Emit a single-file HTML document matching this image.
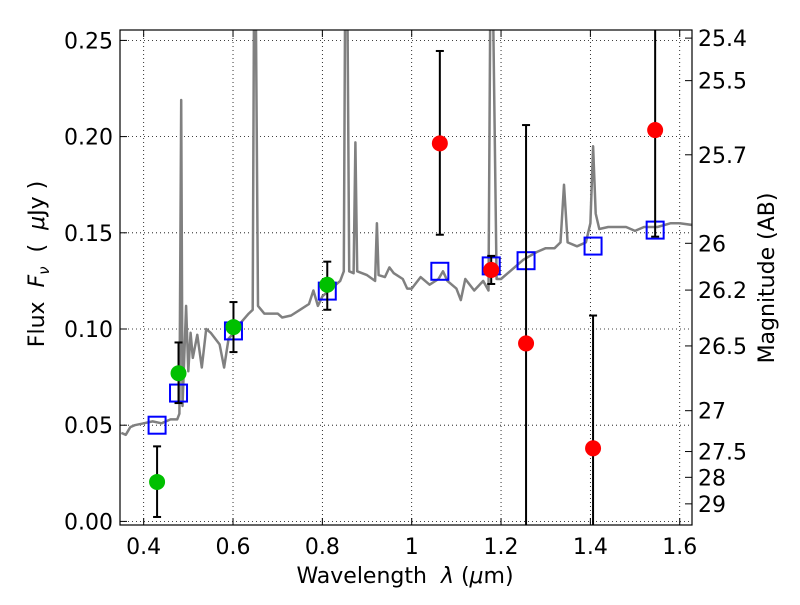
<!DOCTYPE html>
<html><head><meta charset="utf-8"><style>
body{margin:0;background:#fff}
svg text{font-family:"DejaVu Sans","Liberation Sans",sans-serif;fill:#000}
</style></head><body>
<svg id="chart" width="800" height="600" xmlns="http://www.w3.org/2000/svg">
<defs><clipPath id="plotclip"><rect x="120" y="30" width="572" height="495"/></clipPath></defs>
<rect x="0" y="0" width="800" height="600" fill="#fff"/>
<g id="grid"></g>
<g id="spec" clip-path="url(#plotclip)"></g>
<g id="marks" clip-path="url(#plotclip)"></g>
<rect x="120" y="30" width="572" height="495" fill="none" stroke="#000" stroke-width="1.2"/>
<g id="axes"></g>
<text x="405" y="583" font-size="22" text-anchor="middle" xml:space="preserve">Wavelength  <tspan font-style="italic">λ</tspan> (<tspan font-style="italic">μ</tspan>m)</text>
<text transform="translate(44,264) rotate(-90)" font-size="22" text-anchor="middle" xml:space="preserve">Flux  <tspan font-style="italic">F</tspan><tspan font-style="italic" font-size="15" dy="5">ν</tspan><tspan dy="-5">  (  </tspan><tspan font-style="italic">μ</tspan>Jy )</text>
<text transform="translate(774,278) rotate(-90)" font-size="22" text-anchor="middle">Magnitude (AB)</text>
</svg>
<script>
const specLam=[0.35,0.36,0.37,0.38,0.40,0.42,0.44,0.46,0.475,0.48,0.484,0.487,0.49,0.495,0.50,0.505,0.51,0.52,0.53,0.54,0.55,0.57,0.58,0.59,0.61,0.62,0.635,0.644,0.647,0.651,0.656,0.67,0.70,0.71,0.73,0.75,0.77,0.78,0.79,0.80,0.82,0.84,0.848,0.851,0.856,0.86,0.87,0.874,0.878,0.90,0.918,0.922,0.926,0.94,0.95,0.96,0.98,0.99,1.00,1.02,1.04,1.06,1.07,1.08,1.10,1.11,1.12,1.14,1.16,1.172,1.176,1.182,1.19,1.20,1.22,1.25,1.28,1.30,1.32,1.333,1.341,1.349,1.37,1.39,1.40,1.406,1.412,1.42,1.44,1.48,1.50,1.52,1.55,1.58,1.60,1.63];
const specFlux=[0.046,0.045,0.049,0.050,0.051,0.052,0.051,0.053,0.053,0.056,0.219,0.06,0.08,0.112,0.078,0.098,0.085,0.097,0.080,0.100,0.098,0.092,0.080,0.095,0.100,0.104,0.108,0.110,0.27,0.27,0.112,0.108,0.108,0.106,0.107,0.110,0.113,0.120,0.112,0.117,0.121,0.125,0.13,0.27,0.27,0.130,0.129,0.197,0.130,0.128,0.125,0.155,0.128,0.127,0.132,0.129,0.126,0.121,0.121,0.127,0.123,0.126,0.130,0.125,0.121,0.115,0.126,0.120,0.125,0.120,0.27,0.27,0.126,0.126,0.130,0.136,0.140,0.142,0.142,0.145,0.175,0.145,0.143,0.145,0.155,0.195,0.160,0.152,0.153,0.153,0.151,0.153,0.153,0.155,0.155,0.154];
const greenLam=[0.430,0.478,0.601,0.811];
const greenFlux=[0.0205,0.077,0.101,0.123];
const greenLo=[0.0023,0.0615,0.088,0.110];
const greenHi=[0.039,0.093,0.114,0.135];
const redLam=[1.063,1.178,1.256,1.406,1.545];
const redFlux=[0.1965,0.1307,0.0925,0.038,0.2034];
const redLo=[0.149,0.1234,-0.05,-0.05,0.148];
const redHi=[0.2445,0.138,0.206,0.107,0.30];
const boxLam=[0.430,0.478,0.601,0.811,1.063,1.178,1.256,1.406,1.545];
const boxFlux=[0.050,0.0667,0.099,0.1197,0.130,0.1328,0.1355,0.1431,0.1514];
const xTicks=[0.4,0.6,0.8,1.0,1.2,1.4,1.6];
const xTickLabels=["0.4","0.6","0.8","1","1.2","1.4","1.6"];
const yTicks=[0,0.05,0.10,0.15,0.20,0.25];
const yTickLabels=["0.00","0.05","0.10","0.15","0.20","0.25"];
const magTicks=[25.4,25.5,25.7,26,26.2,26.5,27,27.5,28,29];
const magTickLabels=["25.4","25.5","25.7","26","26.2","26.5","27","27.5","28","29"];

const NS="http://www.w3.org/2000/svg";
const X=v=>411.7+(v-1)*446.7;
const Y=v=>521.4-v*1924;
function mk(parent,tag,attrs){const e=document.createElementNS(NS,tag);for(const k in attrs)e.setAttribute(k,attrs[k]);document.getElementById(parent).appendChild(e);return e;}

xTicks.forEach((t,i)=>{
  let g=mk('grid','line',{x1:X(t),x2:X(t),y1:30,y2:525,stroke:'#000','stroke-width':0.8,'stroke-dasharray':'1,3'});
  
  
  let tk=mk('axes','line',{x1:X(t),x2:X(t),y1:525,y2:518,stroke:'#000'});
  
  
  let tk2=mk('axes','line',{x1:X(t),x2:X(t),y1:30,y2:37,stroke:'#000'});
  
  
  let l=mk('axes','text',{x:X(t),y:554,'font-size':22,'text-anchor':'middle'});
  l.textContent=xTickLabels[i];
  
  
});
yTicks.forEach((t,i)=>{
  let g=mk('grid','line',{x1:120,x2:692,y1:Y(t),y2:Y(t),stroke:'#000','stroke-width':0.8,'stroke-dasharray':'1,3'});
  
  
  let tk=mk('axes','line',{x1:120,x2:127,y1:Y(t),y2:Y(t),stroke:'#000'});
  
  
  let l=mk('axes','text',{x:113,y:Y(t)+8,'font-size':22,'text-anchor':'end'});
  l.textContent=yTickLabels[i];
  
  
});
magTicks.forEach((m,i)=>{
  const f=Math.pow(10,(23.9-m)/2.5);
  let tk=mk('axes','line',{x1:685,x2:692,y1:Y(f),y2:Y(f),stroke:'#000'});
  
  
  let l=mk('axes','text',{x:698,y:Y(f)+8,'font-size':22,'text-anchor':'start'});
  l.textContent=magTickLabels[i];
  
  
});
let d=specLam.map((l,i)=>(i?'L':'M')+X(l).toFixed(1)+' '+Y(specFlux[i]).toFixed(1)).join(' ');
let sp=mk('spec','path',{d:d,fill:'none',stroke:'#808080','stroke-width':2.5,'stroke-linejoin':'round'});


function errbar(x,lo,hi,name){
  let e=mk('marks','line',{x1:X(x),x2:X(x),y1:Y(lo),y2:Y(hi),stroke:'#000','stroke-width':2});
  
  
  [lo,hi].forEach(v=>{let c=mk('marks','line',{x1:X(x)-4,x2:X(x)+4,y1:Y(v),y2:Y(v),stroke:'#000','stroke-width':2});
    
    });
}
boxLam.forEach((l,i)=>{
  let r=mk('marks','rect',{x:X(l)-8.5,y:Y(boxFlux[i])-8.5,width:17,height:17,fill:'none',stroke:'#0000ff','stroke-width':2});
  
  
});
greenLam.forEach((l,i)=>{
  errbar(l,greenLo[i],greenHi[i],'green-errorbar');
  let c=mk('marks','circle',{cx:X(l),cy:Y(greenFlux[i]),r:8,fill:'#00c000'});
  
  
});
redLam.forEach((l,i)=>{
  errbar(l,redLo[i],redHi[i],'red-errorbar');
  let c=mk('marks','circle',{cx:X(l),cy:Y(redFlux[i]),r:8,fill:'#ff0000'});
  
  
});
</script>
</body></html>
